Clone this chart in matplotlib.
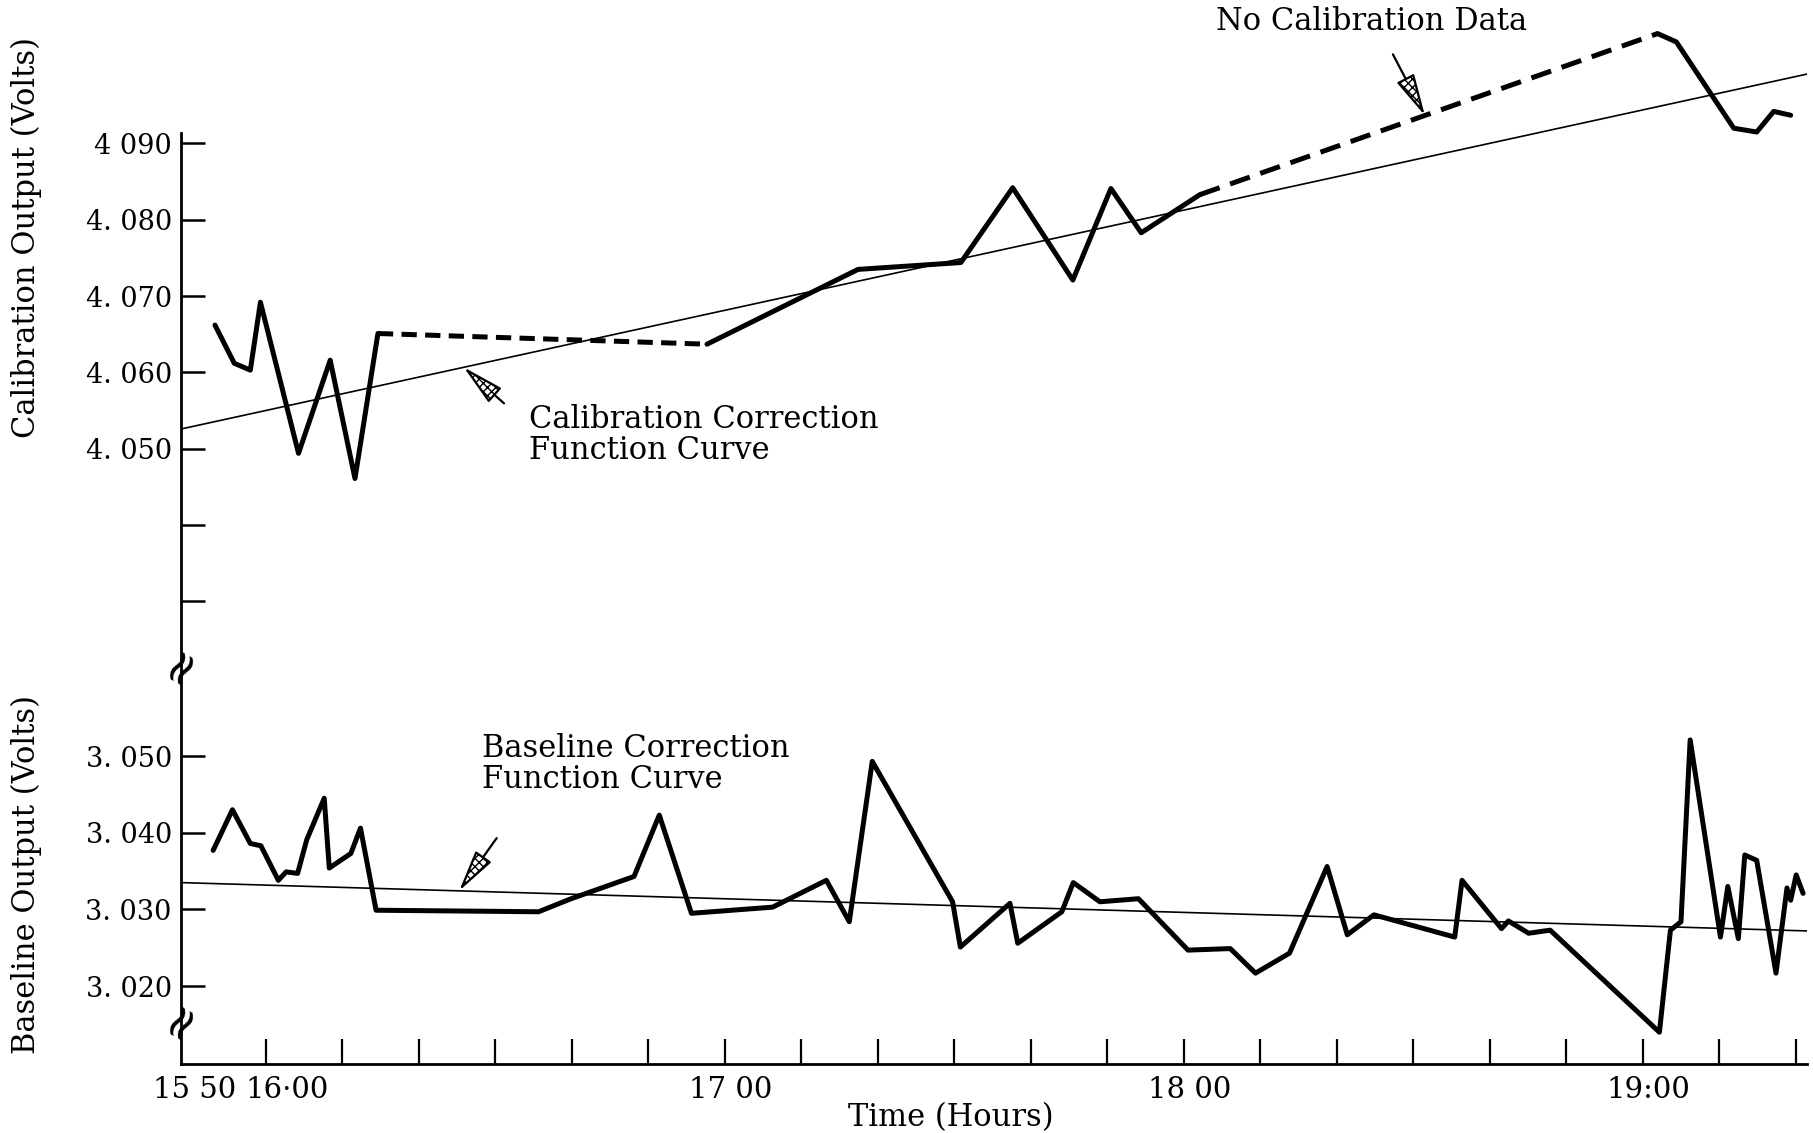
import matplotlib.pyplot as plt
import matplotlib.transforms as mtransforms
import numpy as np

# calibration channel readings: time (decimal hours) and output (V)
cal_time = [15.889, 15.931, 15.966, 15.988, 16.071, 16.140, 16.194, 16.244,
            16.961, 17.290, 17.514, 17.627, 17.758, 17.841, 17.907, 18.035,
            19.032, 19.073, 19.198, 19.248, 19.285, 19.322]
cal_volt = [4.0662, 4.0612, 4.0603, 4.0692, 4.0494, 4.0616, 4.0461, 4.0651,
            4.0637, 4.0735, 4.0744, 4.0842, 4.0721, 4.0841, 4.0783, 4.0833,
            4.1044, 4.1033, 4.0920, 4.0915, 4.0942, 4.0937]
# segments (start index) where there was no calibration data -> dashed
cal_gaps = [7, 15]

# baseline channel readings
base_time = [15.885, 15.927, 15.966, 15.989, 16.027, 16.044, 16.069, 16.089,
             16.127, 16.138, 16.185, 16.206, 16.240, 16.594, 16.665, 16.802,
             16.857, 16.927, 17.104, 17.221, 17.271, 17.321, 17.496, 17.513,
             17.621, 17.638, 17.734, 17.759, 17.817, 17.901, 18.009, 18.101,
             18.156, 18.230, 18.312, 18.356, 18.414, 18.590, 18.606, 18.692,
             18.707, 18.751, 18.798, 19.036, 19.060, 19.083, 19.103, 19.169,
             19.185, 19.208, 19.222, 19.248, 19.290, 19.314, 19.322, 19.334,
             19.349]
base_volt = [3.0377, 3.0430, 3.0386, 3.0383, 3.0338, 3.0349, 3.0347, 3.0391,
             3.0445, 3.0354, 3.0373, 3.0406, 3.0299, 3.0297, 3.0314, 3.0343,
             3.0423, 3.0295, 3.0303, 3.0338, 3.0284, 3.0493, 3.0310, 3.0251,
             3.0308, 3.0256, 3.0297, 3.0335, 3.0310, 3.0314, 3.0247, 3.0249,
             3.0217, 3.0243, 3.0356, 3.0267, 3.0293, 3.0264, 3.0338, 3.0275,
             3.0285, 3.0269, 3.0273, 3.0140, 3.0273, 3.0284, 3.0521, 3.0264,
             3.0330, 3.0262, 3.0371, 3.0364, 3.0217, 3.0328, 3.0312, 3.0345,
             3.0321]

# correction function curves (straight lines over the time span)
fit_time = [15.816, 19.358]
cal_fit = [4.0526, 4.0991]
base_fit = [3.0335, 3.0272]

cal_ticks = [4.030, 4.040, 4.050, 4.060, 4.070, 4.080, 4.090]
cal_ticklabels = ['', '', '4. 050', '4. 060', '4. 070', '4. 080', '4 090']
base_ticks = [3.020, 3.030, 3.040, 3.050]
base_ticklabels = ['3. 020', '3. 030', '3. 040', '3. 050']
time_ticks = 15 + 50 / 60 + np.arange(22) * 10 / 60
time_names = {0: '15 50', 1: '16·00', 7: '17 00', 13: '18 00', 19: '19:00'}
time_ticklabels = [time_names.get(i, '') for i in range(len(time_ticks))]

plt.rcParams['font.family'] = 'DejaVu Serif'
plt.rcParams['lines.scale_dashes'] = False

fig = plt.figure(figsize=(18.13, 11.33), dpi=100)
ax1 = fig.add_axes([0.1001, 0.4133, 0.8967, 0.5867])
ax2 = fig.add_axes([0.1001, 0.0612, 0.8967, 0.3521])

xlim = (15.816, 19.358)
txt = 22

#%% calibration output
bounds = [0] + [g + 1 for g in cal_gaps] + [len(cal_time)]
for s, e in zip(bounds[:-1], bounds[1:]):
    ax1.plot(cal_time[s:e], cal_volt[s:e], color='k', lw=3.6,
             solid_joinstyle='round', solid_capstyle='round')
for g, d in zip(cal_gaps, [(11, 6), (15, 8)]):
    ax1.plot(cal_time[g:g + 2], cal_volt[g:g + 2], color='k', lw=3.6, dashes=d)
ax1.plot(fit_time, cal_fit, color='k', lw=1.2)

ax1.set_xlim(xlim)
ax1.set_ylim(4.0217, 4.1088)
ax1.set_yticks(cal_ticks, cal_ticklabels)
ax1.tick_params(axis='y', direction='in', length=17, width=1.8, pad=7, labelsize=19.5)
ax1.tick_params(axis='x', bottom=False, labelbottom=False)
for side in ['top', 'right', 'bottom']:
    ax1.spines[side].set_visible(False)
ax1.spines['left'].set_linewidth(2)
ax1.spines['left'].set_bounds(4.0217, 4.0914)
ax1.set_ylabel('Calibration Output (Volts)', fontsize=txt)
ax1.yaxis.set_label_coords(-0.086, 0.642)

arrow = dict(arrowstyle='-|>,head_length=2.6,head_width=0.6', lw=1.6,
             fc='white', ec='k', hatch='xxxx', shrinkA=0, shrinkB=0)
t_tip = 16.431
ax1.annotate('', xy=(t_tip, np.interp(t_tip, fit_time, cal_fit)),
             xytext=(29, -26), textcoords='offset points', arrowprops=arrow)
ax1.text(16.574, 4.0558, 'Calibration Correction\nFunction Curve',
         fontsize=txt, va='top', ha='left', linespacing=1.0)

t_tip = 18.525
ax1.annotate('', xy=(t_tip, np.interp(t_tip, cal_time[15:17], cal_volt[15:17])),
             xytext=(-23, 44), textcoords='offset points', arrowprops=arrow)
ax1.text(18.07, 4.1080, 'No Calibration Data', fontsize=txt, va='top', ha='left')

#%% baseline output
ax2.plot(base_time, base_volt, color='k', lw=3.6, solid_joinstyle='round',
         solid_capstyle='round')
ax2.plot(fit_time, base_fit, color='k', lw=1.2)

ax2.set_xlim(xlim)
ax2.set_ylim(3.0099, 3.0619)
ax2.set_yticks(base_ticks, base_ticklabels)
ax2.tick_params(axis='y', direction='in', length=17, width=1.8, pad=7, labelsize=19.5)
ax2.set_xticks(time_ticks, time_ticklabels)
ax2.tick_params(axis='x', direction='in', length=18, width=1.6, pad=9, labelsize=21)
ax2.xaxis.get_major_ticks()[0].tick1line.set_visible(False)
# time labels sit a little right of their ticks, 16:00 more so
for i, lab in enumerate(ax2.get_xticklabels()):
    dx = 15 if i == 1 else 4
    lab.set_transform(lab.get_transform() +
                      mtransforms.ScaledTranslation(dx / 72, 0, fig.dpi_scale_trans))
for side in ['top', 'right']:
    ax2.spines[side].set_visible(False)
ax2.spines['left'].set_linewidth(2)
ax2.spines['bottom'].set_linewidth(2)
ax2.set_ylabel('Baseline Output (Volts)', fontsize=txt)
ax2.yaxis.set_label_coords(-0.086, 0.475)
ax2.set_xlabel('Time (Hours)', fontsize=txt)
ax2.xaxis.set_label_coords(0.473, -0.096)

t_tip = 16.421
ax2.annotate('', xy=(t_tip, np.interp(t_tip, fit_time, base_fit)),
             xytext=(27, 38), textcoords='offset points', arrowprops=arrow)
ax2.text(16.471, 3.0530, 'Baseline Correction\nFunction Curve',
         fontsize=txt, va='top', ha='left', linespacing=1.0)

# axis break marks
for yb in [0.4133, 0.0997]:
    fig.text(0.1001, yb, '≈', fontsize=34, rotation=60, ha='center', va='center')

fig.savefig('out.png', dpi=100)
